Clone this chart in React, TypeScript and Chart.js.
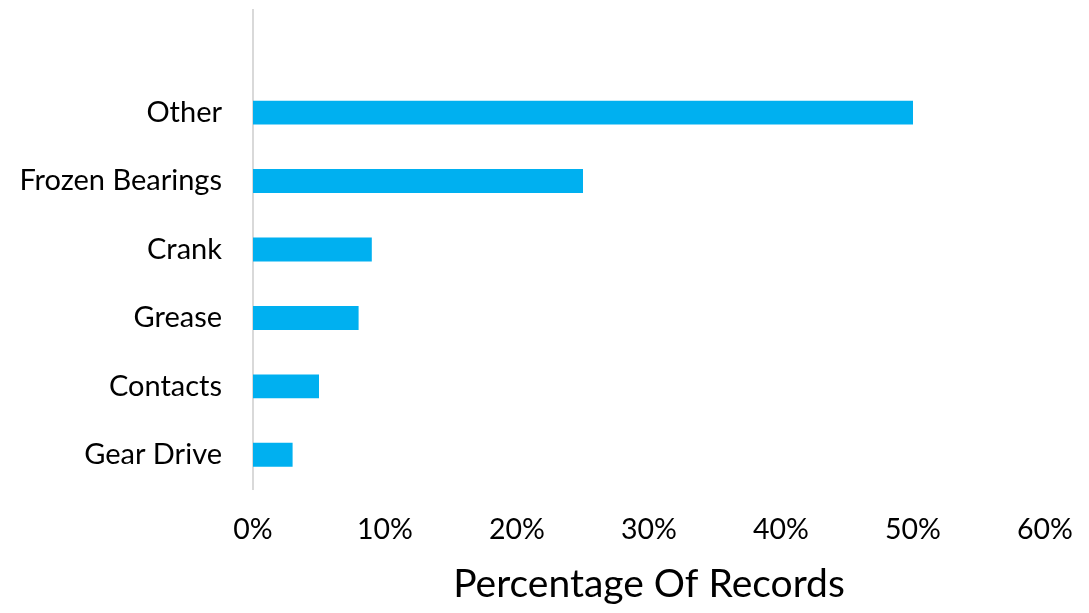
import React, { useEffect, useRef } from "react";
import { Chart, registerables } from "chart.js";

Chart.register(...registerables);

const categories: string[] = ["", "Other", "Frozen Bearings", "Crank", "Grease", "Contacts", "Gear Drive"];
const percentValues: (number | null)[] = [null, 50, 25, 9, 8, 5, 3];
const xTicks: number[] = [0, 10, 20, 30, 40, 50, 60];
const axisTitle = "Percentage Of Records";

export default function App() {
  const ref = useRef<HTMLCanvasElement | null>(null);
  useEffect(() => {
    if (!ref.current) return;
    const font = "Lato, 'Open Sans', sans-serif";
    const chart = new Chart(ref.current, {
      type: "bar",
      data: {
        labels: categories,
        datasets: [
          {
            data: percentValues,
            backgroundColor: "#00B0F0",
            borderWidth: 0,
            barPercentage: 0.35,
            categoryPercentage: 1,
          },
        ],
      },
      options: {
        indexAxis: "y",
        animation: false,
        responsive: true,
        maintainAspectRatio: false,
        layout: { padding: { top: 10, right: 44, bottom: 5, left: 0 } },
        plugins: { legend: { display: false }, tooltip: { enabled: false } },
        scales: {
          x: {
            min: 0,
            max: 60,
            afterBuildTicks: (s: any) => {
              s.ticks = xTicks.map((v) => ({ value: v }));
            },
            afterFit: (s: any) => {
              s.height = 119;
              s.paddingLeft = 0;
              s.paddingRight = 0;
            },
            grid: { display: false, drawTicks: false },
            border: { display: false },
            ticks: {
              padding: 24,
              color: "#000",
              font: { family: font, size: 28.5 },
              maxRotation: 0,
              callback: (v: any) => `${v}%`,
            },
            title: {
              display: true,
              text: axisTitle,
              color: "#000",
              font: { family: font, size: 39 },
              padding: { top: 0, bottom: 0 },
            },
          },
          y: {
            afterFit: (s: any) => {
              s.width = 253;
              s.paddingTop = 0;
              s.paddingBottom = 0;
            },
            grid: { display: false, drawTicks: false },
            border: { display: true, color: "#d9d9d9", width: 2 },
            ticks: {
              padding: 31,
              color: "#000",
              font: { family: font, size: 29 },
            },
          },
        },
      },
    });
    return () => chart.destroy();
  }, []);
  return (
    <div style={{ position: "fixed", left: 0, top: 0, width: 1089, height: 613, background: "#fff" }}>
      <canvas ref={ref} />
    </div>
  );
}
